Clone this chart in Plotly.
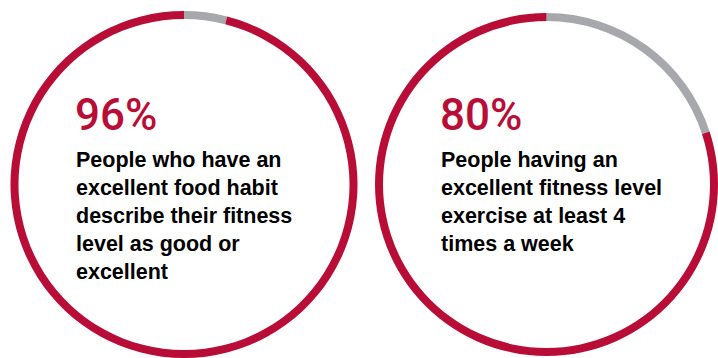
import plotly.graph_objects as go

W, H = 718, 358

# Data
percents = [96, 80]
pct_labels = ["96%", "80%"]
descriptions = [
    "People who have an<br>excellent food habit<br>describe their fitness<br>level as good or<br>excellent",
    "People having an<br>excellent fitness level<br>exercise at least 4<br>times a week",
]

RED = "#B80D37"
GRAY = "#A7A8AB"

# ring geometry in pixels: (center_x, center_y, radius)
rings = [(184, 184.5, 173.5), (546.5, 184.5, 171.5)]
thickness = 8
text_x = [73, 438]

fig = go.Figure()
for i, (p, (cx, cy, r)) in enumerate(zip(percents, rings)):
    fig.add_trace(go.Pie(
        values=[100 - p, p],
        labels=["rest", "share"],
        marker=dict(colors=[GRAY, RED], line=dict(width=0)),
        hole=1 - thickness / r,
        sort=False,
        direction="clockwise",
        rotation=0,
        textinfo="none",
        hoverinfo="skip",
        showlegend=False,
        domain=dict(x=[(cx - r) / W, (cx + r) / W],
                    y=[1 - (cy + r) / H, 1 - (cy - r) / H]),
    ))

for i in range(2):
    fig.add_annotation(
        x=text_x[i] / W, y=1 - 86.5 / H, xref="paper", yref="paper",
        xanchor="left", yanchor="top", showarrow=False,
        text=pct_labels[i], align="left",
        font=dict(family="Roboto", size=44, color=RED, weight=500),
    )
    fig.add_annotation(
        x=(text_x[i] + 1) / W, y=1 - 145.5 / H, xref="paper", yref="paper",
        xanchor="left", yanchor="top", showarrow=False,
        text=descriptions[i], align="left",
        font=dict(family="Liberation Sans", size=21.5, color="#000000", weight="bold"),
    )

fig.update_layout(
    width=W, height=H,
    margin=dict(l=0, r=0, t=0, b=0),
    paper_bgcolor="white", plot_bgcolor="white",
)

fig.write_html("out.html")
